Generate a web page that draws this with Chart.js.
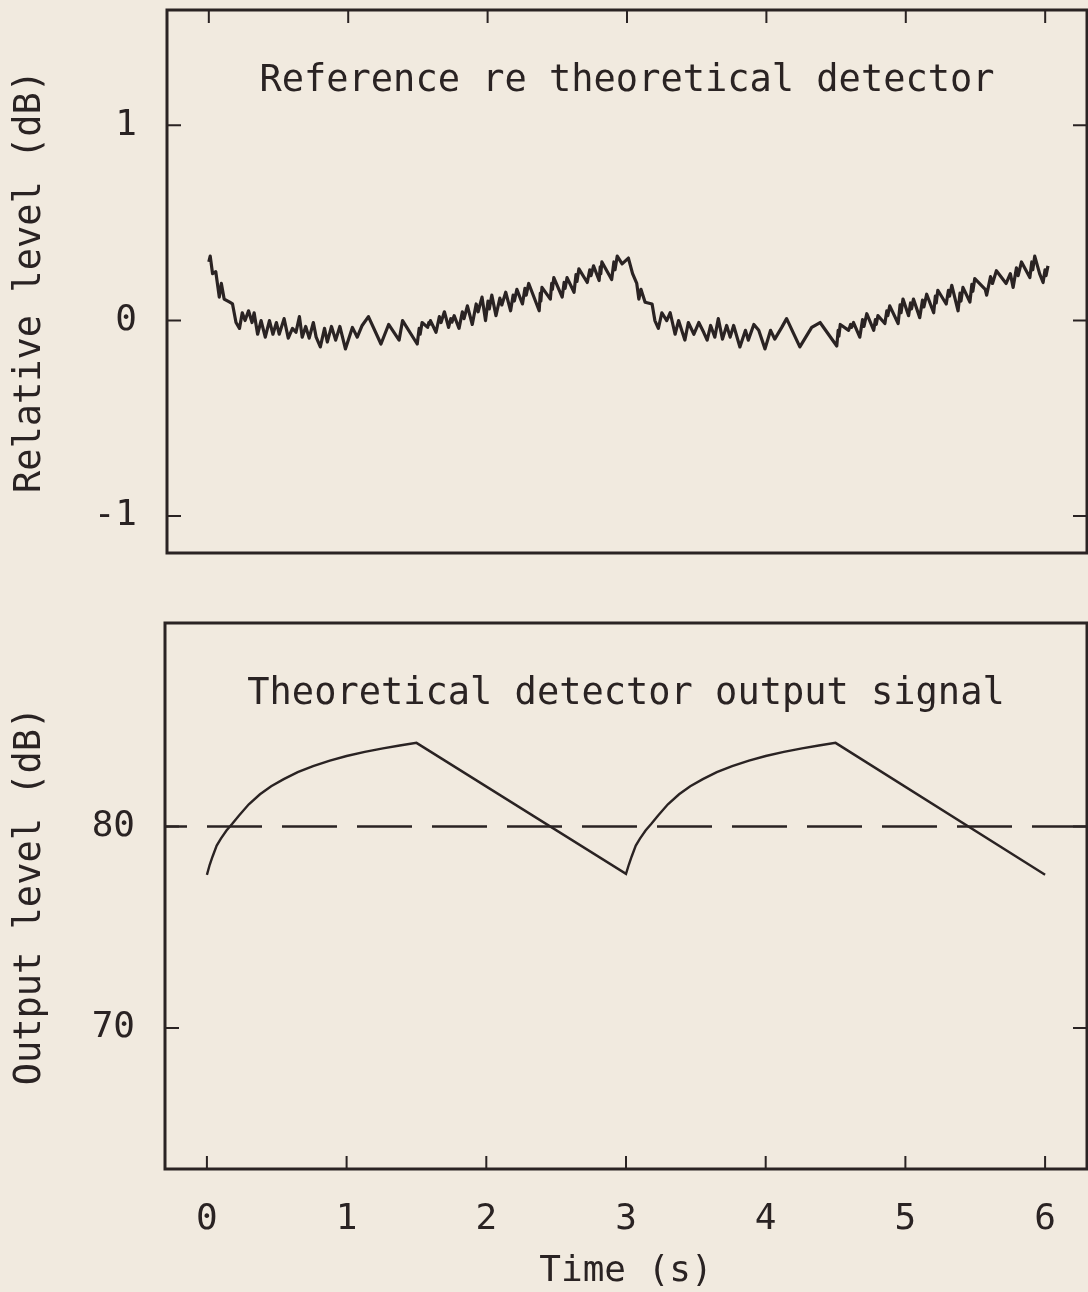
<!DOCTYPE html>
<html>
<head>
<meta charset="utf-8">
<title>Theoretical detector</title>
<script src="https://cdn.jsdelivr.net/npm/chart.js@4.4.0/dist/chart.umd.min.js"></script>
<style>
  html, body { margin: 0; padding: 0; background: #f1eadf; }
  body { width: 1088px; height: 1292px; position: relative; overflow: hidden; }
  .panel { position: absolute; left: 0; width: 1088px; }
  #topPanel { top: 0; height: 590px; }
  #bottomPanel { top: 590px; height: 702px; }
</style>
</head>
<body>
<div class="panel" id="topPanel"><canvas id="relChart"></canvas></div>
<div class="panel" id="bottomPanel"><canvas id="outChart"></canvas></div>
<script>
// tick labels
const timeTicks = [0, 1, 2, 3, 4, 5, 6];
const relTicks = [-1, 0, 1];
const outTicks = [70, 80];

// top panel: reference re theoretical detector (s, dB)
const relTime = [
  0.00, 0.01, 0.027, 0.05, 0.075, 0.09, 0.11, 0.15, 0.17, 0.195,
  0.22, 0.24, 0.26, 0.285, 0.31, 0.325, 0.35, 0.375, 0.405, 0.435,
  0.46, 0.485, 0.505, 0.54, 0.57, 0.60, 0.625, 0.65, 0.67, 0.695,
  0.72, 0.75, 0.77, 0.80, 0.83, 0.85, 0.88, 0.91, 0.94, 0.98,
  1.03, 1.065, 1.10, 1.145, 1.235, 1.29, 1.365, 1.39, 1.495, 1.509,
  1.516, 1.53, 1.57, 1.578, 1.582, 1.59, 1.63, 1.654, 1.666, 1.69,
  1.72, 1.736, 1.744, 1.76, 1.795, 1.819, 1.831, 1.855, 1.89, 1.918,
  1.932, 1.96, 1.985, 2.003, 2.012, 2.03, 2.06, 2.088, 2.102, 2.13,
  2.165, 2.183, 2.192, 2.21, 2.25, 2.268, 2.277, 2.295, 2.37, 2.378,
  2.382, 2.39, 2.45, 2.46, 2.465, 2.475, 2.535, 2.549, 2.556, 2.57,
  2.62, 2.634, 2.641, 2.655, 2.715, 2.733, 2.742, 2.76, 2.80, 2.808,
  2.812, 2.82, 2.89, 2.906, 2.914, 2.93, 2.965, 3.01, 3.04, 3.07,
  3.085, 3.10, 3.13, 3.18, 3.20, 3.225, 3.25, 3.285, 3.31, 3.345,
  3.37, 3.415, 3.44, 3.48, 3.515, 3.55, 3.575, 3.60, 3.63, 3.655,
  3.685, 3.715, 3.74, 3.765, 3.81, 3.85, 3.87, 3.91, 3.945, 3.99,
  4.03, 4.06, 4.11, 4.145, 4.24, 4.325, 4.385, 4.505, 4.515, 4.52,
  4.53, 4.59, 4.604, 4.611, 4.625, 4.67, 4.69, 4.70, 4.72, 4.77,
  4.782, 4.788, 4.80, 4.85, 4.864, 4.871, 4.885, 4.945, 4.959, 4.966,
  4.98, 5.02, 5.034, 5.041, 5.055, 5.10, 5.12, 5.13, 5.15, 5.20,
  5.212, 5.218, 5.23, 5.29, 5.306, 5.314, 5.33, 5.375, 5.389, 5.396,
  5.41, 5.46, 5.474, 5.481, 5.495, 5.57, 5.58, 5.608, 5.622, 5.65,
  5.72, 5.75, 5.77, 5.794, 5.806, 5.83, 5.89, 5.904, 5.911, 5.925,
  5.96, 5.985, 5.999, 6.006, 6.02
];
const relLevel = [
  0.30, 0.33, 0.24, 0.25, 0.12, 0.19, 0.11, 0.094, 0.085, -0.01,
  -0.04, 0.04, 0.00, 0.05, -0.01, 0.04, -0.07, 0.00, -0.085, 0.00,
  -0.07, -0.01, -0.07, 0.01, -0.09, -0.04, -0.06, 0.02, -0.085, -0.03,
  -0.09, -0.01, -0.085, -0.135, -0.04, -0.11, -0.03, -0.10, -0.03, -0.145,
  -0.035, -0.085, -0.025, 0.02, -0.12, -0.02, -0.10, 0.00, -0.12, -0.04,
  -0.07, -0.01, -0.035, -0.01, -0.02, 0.00, -0.06, 0.02, -0.01, 0.045,
  -0.035, 0.01, -0.008, 0.025, -0.04, 0.045, 0.01, 0.075, -0.02, 0.085,
  0.045, 0.12, 0.00, 0.10, 0.06, 0.13, 0.025, 0.115, 0.08, 0.145,
  0.05, 0.13, 0.10, 0.16, 0.085, 0.165, 0.13, 0.19, 0.05, 0.14,
  0.10, 0.17, 0.11, 0.19, 0.16, 0.22, 0.12, 0.195, 0.165, 0.22,
  0.145, 0.235, 0.20, 0.265, 0.195, 0.26, 0.23, 0.28, 0.205, 0.275,
  0.24, 0.30, 0.21, 0.30, 0.26, 0.33, 0.29, 0.32, 0.24, 0.19,
  0.11, 0.16, 0.094, 0.085, 0.00, -0.04, 0.04, 0.00, 0.04, -0.07,
  0.00, -0.10, -0.01, -0.07, -0.01, -0.06, -0.10, -0.025, -0.085, 0.01,
  -0.095, -0.025, -0.085, -0.025, -0.135, -0.05, -0.10, -0.02, -0.05, -0.145,
  -0.05, -0.095, -0.035, 0.01, -0.135, -0.035, -0.01, -0.13, -0.05, -0.08,
  -0.02, -0.05, -0.02, -0.035, -0.01, -0.085, 0.005, -0.03, 0.035, -0.05,
  0.005, -0.02, 0.025, -0.015, 0.05, 0.025, 0.075, -0.015, 0.08, 0.04,
  0.11, 0.025, 0.09, 0.06, 0.11, 0.015, 0.105, 0.07, 0.135, 0.04,
  0.125, 0.09, 0.155, 0.085, 0.155, 0.125, 0.18, 0.05, 0.14, 0.10,
  0.17, 0.095, 0.185, 0.15, 0.215, 0.16, 0.13, 0.225, 0.19, 0.255,
  0.19, 0.24, 0.17, 0.27, 0.23, 0.30, 0.22, 0.30, 0.26, 0.33,
  0.24, 0.195, 0.26, 0.23, 0.28
];

// bottom panel: theoretical detector output signal (s, dB)
const outTime = [
  0.00, 0.02, 0.04, 0.07, 0.10, 0.14, 0.18, 0.23, 0.30, 0.38,
  0.46, 0.55, 0.65, 0.76, 0.88, 1.00, 1.13, 1.26, 1.38, 1.50,
  3.00, 3.02, 3.04, 3.07, 3.10, 3.14, 3.18, 3.23, 3.30, 3.38,
  3.46, 3.55, 3.65, 3.76, 3.88, 4.00, 4.13, 4.26, 4.38, 4.50,
  6.00
];
const outLevel = [
  77.6, 78.1, 78.5, 79.05, 79.4, 79.8, 80.12, 80.55, 81.1, 81.6,
  82.0, 82.35, 82.7, 83.0, 83.27, 83.5, 83.7, 83.88, 84.02, 84.15,
  77.65, 78.1, 78.5, 79.05, 79.4, 79.8, 80.12, 80.55, 81.1, 81.6,
  82.0, 82.35, 82.7, 83.0, 83.27, 83.5, 83.7, 83.88, 84.02, 84.15,
  77.6
];
const refTime = [-0.3, 6.3];
const refLevel = [80, 80];

const INK = '#2a2323';
const FONT = '"DejaVu Sans Mono", "Liberation Mono", monospace';

const toPoints = (xs, ys) => xs.map((x, i) => ({ x: x, y: ys[i] }));

// frame, inward ticks and the caption inside the plot
const plotterFrame = {
  id: 'plotterFrame',
  afterDatasetsDraw(chart, args, opts) {
    const { ctx, chartArea: a } = chart;
    const x = chart.scales.x, y = chart.scales.y;
    ctx.save();
    ctx.strokeStyle = INK;
    ctx.lineWidth = 3;
    ctx.strokeRect(a.left, a.top, a.right - a.left, a.bottom - a.top);
    ctx.lineWidth = 2;
    ctx.beginPath();
    timeTicks.forEach(v => {
      const px = x.getPixelForValue(v);
      if (opts.xTickEdge === 'top') { ctx.moveTo(px, a.top); ctx.lineTo(px, a.top + 13); }
      else { ctx.moveTo(px, a.bottom); ctx.lineTo(px, a.bottom - 13); }
    });
    opts.yTicks.forEach(v => {
      const py = y.getPixelForValue(v);
      ctx.moveTo(a.left, py); ctx.lineTo(a.left + 14, py);
      ctx.moveTo(a.right, py); ctx.lineTo(a.right - 14, py);
    });
    ctx.stroke();
    ctx.fillStyle = INK;
    ctx.font = '37px ' + FONT;
    ctx.textAlign = 'center';
    ctx.textBaseline = 'alphabetic';
    ctx.fillText(opts.caption, x.getPixelForValue(opts.captionAt[0]), y.getPixelForValue(opts.captionAt[1]));
    ctx.restore();
  }
};

function yAxis(min, max, ticks, title, width) {
  return {
    type: 'linear',
    min: min,
    max: max,
    afterBuildTicks: s => { s.ticks = ticks.map(v => ({ value: v })); },
    afterFit: s => { s.width = width; s.paddingTop = 0; s.paddingBottom = 0; },
    grid: { display: false, drawTicks: false },
    border: { display: false },
    ticks: { color: INK, font: { family: FONT, size: 36 }, padding: 30 },
    title: { display: true, text: title, color: INK, font: { family: FONT, size: 37, lineHeight: 1 }, padding: { top: 12, bottom: 0 } }
  };
}

new Chart(document.getElementById('relChart'), {
  type: 'line',
  data: {
    datasets: [{
      data: toPoints(relTime, relLevel),
      borderColor: INK,
      borderWidth: 3.2,
      borderJoinStyle: 'round',
      pointRadius: 0,
      tension: 0
    }]
  },
  options: {
    responsive: true,
    maintainAspectRatio: false,
    animation: false,
    layout: { padding: { top: 10, right: 1, bottom: 37, left: 0 } },
    plugins: {
      legend: { display: false },
      tooltip: { enabled: false },
      plotterFrame: { xTickEdge: 'top', yTicks: relTicks, caption: 'Reference re theoretical detector', captionAt: [3.0, 1.175] }
    },
    scales: {
      x: { type: 'linear', min: -0.3, max: 6.3, display: false },
      y: yAxis(-1.19, 1.59, relTicks, 'Relative level (dB)', 167)
    }
  },
  plugins: [plotterFrame]
});

new Chart(document.getElementById('outChart'), {
  type: 'line',
  data: {
    datasets: [{
      data: toPoints(outTime, outLevel),
      borderColor: INK,
      borderWidth: 2.4,
      pointRadius: 0,
      tension: 0
    }, {
      data: toPoints(refTime, refLevel),
      borderColor: INK,
      borderWidth: 2.5,
      borderDash: [55, 20],
      borderDashOffset: 33,
      pointRadius: 0,
      tension: 0
    }]
  },
  options: {
    responsive: true,
    maintainAspectRatio: false,
    animation: false,
    layout: { padding: { top: 33, right: 1, bottom: 0, left: 0 } },
    plugins: {
      legend: { display: false },
      tooltip: { enabled: false },
      plotterFrame: { xTickEdge: 'bottom', yTicks: outTicks, caption: 'Theoretical detector output signal', captionAt: [3.0, 86.1] }
    },
    scales: {
      x: {
        type: 'linear',
        min: -0.3,
        max: 6.3,
        afterBuildTicks: s => { s.ticks = timeTicks.map(v => ({ value: v })); },
        afterFit: s => { s.height = 123; s.paddingLeft = 0; s.paddingRight = 0; },
        grid: { display: false, drawTicks: false },
        border: { display: false },
        ticks: { color: INK, font: { family: FONT, size: 36 }, padding: 29, maxRotation: 0 },
        title: { display: true, text: 'Time (s)', color: INK, font: { family: FONT, size: 36, lineHeight: 1 }, padding: { top: 0, bottom: 2 } }
      },
      y: yAxis(63, 90.1, outTicks, 'Output level (dB)', 165)
    }
  },
  plugins: [plotterFrame]
});
</script>
</body>
</html>
